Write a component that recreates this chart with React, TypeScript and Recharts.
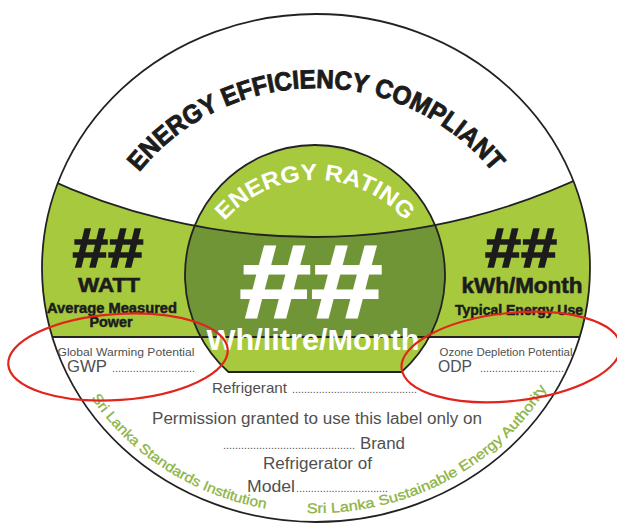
import { ComposedChart, XAxis, YAxis, ReferenceDot } from "recharts"

const WIDTH = 617
const HEIGHT = 527

// label content
const TITLE = "ENERGY EFFICIENCY COMPLIANT"
const RATING_CAPTION = "ENERGY RATING"
const RATING_VALUE = "##"
const RATING_UNIT = "Wh/litre/Month"
const SIDE_VALUES = ["##", "##"]
const SIDE_UNITS = ["WATT", "kWh/Month"]
const SIDE_NOTES = [["Average Measured", "Power"], ["Typical Energy Use"]]
const POTENTIAL_NAMES = ["Global Warming Potential", "Ozone Depletion Potential"]
const POTENTIAL_CODES = ["GWP", "ODP"]
const REFRIGERANT = "Refrigerant"
const PERMISSION_LINES = ["Permission granted to use this label only on", "Brand", "Refrigerator of", "Model"]
const AUTHORITIES = ["Sri Lanka Standards Institution", "Sri Lanka Sustainable Energy Authority"]

const LIGHT_GREEN = "#a7c93d"
const DARK_GREEN = "#6f9536"
const INK = "#1c1c1c"
const GREY = "#505050"
const AUTHORITY_GREEN = "#8db442"
const MARK_RED = "#e1251d"
const FONT = "'Liberation Sans', Arial, sans-serif"

type DotProps = { cx?: number; cy?: number }

const rad = (deg: number) => (deg * Math.PI) / 180

function arcPath(cx: number, cy: number, rx: number, ry: number, a0: number, a1: number) {
  const x0 = cx + rx * Math.cos(rad(a0))
  const y0 = cy + ry * Math.sin(rad(a0))
  const x1 = cx + rx * Math.cos(rad(a1))
  const y1 = cy + ry * Math.sin(rad(a1))
  const sweep = a1 > a0 ? 1 : 0
  const large = Math.abs(a1 - a0) > 180 ? 1 : 0
  return `M ${x0} ${y0} A ${rx} ${ry} 0 ${large} ${sweep} ${x1} ${y1}`
}

function badgeShape({ cx = 0, cy = 0 }: DotProps) {
  const rx = 274
  const ry = 254
  // boundary arc between white cap and green band
  const R = 634
  const acx = cx - 3
  const acy = cy - 665
  const arcY = (x: number) => acy + Math.sqrt(R * R - (x - acx) ** 2)
  const lineY = cy + 69
  const x0 = cx - 290
  const x1 = cx + 290
  const bandTop = `M ${x0} ${arcY(x0)} A ${R} ${R} 0 0 0 ${x1} ${arcY(x1)} L ${x1} ${lineY} L ${x0} ${lineY} Z`
  const arcLine = `M ${x0} ${arcY(x0)} A ${R} ${R} 0 0 0 ${x1} ${arcY(x1)}`
  // inner disc, flattened at the bottom
  const icx = cx - 1
  const icy = cy + 7
  const ir = 130
  const bottom = cy + 104
  const dx = Math.sqrt(ir * ir - (bottom - icy) ** 2)
  const inner = `M ${icx - dx} ${bottom} A ${ir} ${ir} 0 1 1 ${icx + dx} ${bottom} Z`
  return (
    <g>
      <defs>
        <clipPath id="outer-clip">
          <ellipse cx={cx} cy={cy} rx={rx} ry={ry} />
        </clipPath>
        <clipPath id="inner-clip">
          <path d={inner} />
        </clipPath>
      </defs>
      <ellipse cx={cx} cy={cy} rx={rx} ry={ry} fill="#fff" />
      <path d={bandTop} fill={LIGHT_GREEN} clipPath="url(#outer-clip)" />
      <path d={inner} fill={LIGHT_GREEN} />
      <path d={bandTop} fill={DARK_GREEN} clipPath="url(#inner-clip)" />
      <g clipPath="url(#outer-clip)" stroke="#222" strokeWidth={1.8} fill="none">
        <path d={arcLine} />
        <line x1={cx - rx} y1={lineY} x2={cx + rx} y2={lineY} />
      </g>
      <path d={inner} fill="none" stroke="#222" strokeWidth={1.8} />
      <ellipse cx={cx} cy={cy} rx={rx} ry={ry} fill="none" stroke="#222" strokeWidth={1.8} />
    </g>
  )
}

type TextStyle = {
  size: number
  fill: string
  weight?: number
  anchor?: "start" | "middle" | "end"
  length?: number
  stroke?: number
}

function textShape(text: string, s: TextStyle) {
  return ({ cx = 0, cy = 0 }: DotProps) => (
    <text
      x={cx}
      y={cy}
      fontFamily={FONT}
      fontSize={s.size}
      fontWeight={s.weight ?? 400}
      fill={s.fill}
      stroke={s.stroke ? s.fill : undefined}
      strokeWidth={s.stroke}
      textAnchor={s.anchor ?? "middle"}
      textLength={s.length}
      lengthAdjust={s.length ? "spacingAndGlyphs" : undefined}
    >
      {text}
    </text>
  )
}

function dotsShape(width: number) {
  return ({ cx = 0, cy = 0 }: DotProps) => (
    <text
      x={cx}
      y={cy}
      fontFamily={FONT}
      fontSize={10}
      fill={GREY}
      textLength={width}
      lengthAdjust="spacingAndGlyphs"
    >
      {".".repeat(Math.round(width / 3))}
    </text>
  )
}

function curvedShape(
  id: string,
  text: string,
  rx: number,
  ry: number,
  a0: number,
  a1: number,
  s: TextStyle & { offset?: string }
) {
  return ({ cx = 0, cy = 0 }: DotProps) => (
    <g>
      <defs>
        <path id={id} d={arcPath(cx, cy, rx, ry, a0, a1)} />
      </defs>
      <text
        fontFamily={FONT}
        fontSize={s.size}
        fontWeight={s.weight ?? 400}
        fill={s.fill}
        stroke={s.stroke ? s.fill : undefined}
        strokeWidth={s.stroke}
        textAnchor={s.anchor ?? "middle"}
      >
        <textPath
          href={`#${id}`}
          startOffset={s.offset ?? "50%"}
          textLength={s.length}
          lengthAdjust="spacingAndGlyphs"
        >
          {text}
        </textPath>
      </text>
    </g>
  )
}

function ellipseShape(rx: number, ry: number, angle: number) {
  return ({ cx = 0, cy = 0 }: DotProps) => (
    <ellipse
      cx={cx}
      cy={cy}
      rx={rx}
      ry={ry}
      transform={`rotate(${angle} ${cx} ${cy})`}
      fill="none"
      stroke={MARK_RED}
      strokeWidth={2.2}
    />
  )
}

export default function App() {
  const marks: [number, number, (p: DotProps) => React.ReactElement][] = [
    [316, 268, badgeShape],
    [316, 316, curvedShape("title-arc", TITLE, 228, 228, -155, -25, { size: 26, weight: 700, fill: INK, length: 405, stroke: 0.9 })],
    [315, 300, curvedShape("rating-arc", RATING_CAPTION, 120, 120, -145, -35, { size: 23, weight: 700, fill: "#fff", length: 205 })],
    [311, 317, textShape(RATING_VALUE, { size: 104, weight: 700, fill: "#fff", length: 143, stroke: 2 })],
    [313, 350, textShape(RATING_UNIT, { size: 30, weight: 700, fill: "#fff", length: 213 })],
    [108, 267, textShape(SIDE_VALUES[0], { size: 56, weight: 700, fill: INK, length: 71, stroke: 1.5 })],
    [521, 267, textShape(SIDE_VALUES[1], { size: 56, weight: 700, fill: INK, length: 72, stroke: 1.5 })],
    [109, 292, textShape(SIDE_UNITS[0], { size: 21, weight: 700, fill: INK, length: 62, stroke: 0.6 })],
    [522, 293, textShape(SIDE_UNITS[1], { size: 21.5, weight: 700, fill: INK, length: 121, stroke: 0.6 })],
    [112, 313, textShape(SIDE_NOTES[0][0], { size: 14, weight: 700, fill: INK, length: 130, stroke: 0.5 })],
    [111, 327, textShape(SIDE_NOTES[0][1], { size: 14, weight: 700, fill: INK, length: 43, stroke: 0.5 })],
    [519, 315, textShape(SIDE_NOTES[1][0], { size: 14, weight: 700, fill: INK, length: 128, stroke: 0.5 })],
    [126, 356, textShape(POTENTIAL_NAMES[0], { size: 11, fill: GREY, length: 137 })],
    [506, 356, textShape(POTENTIAL_NAMES[1], { size: 11, fill: GREY, length: 133 })],
    [67, 372, textShape(POTENTIAL_CODES[0], { size: 16, fill: GREY, anchor: "start", length: 40 })],
    [112, 372, dotsShape(83)],
    [438, 372, textShape(POTENTIAL_CODES[1], { size: 16, fill: GREY, anchor: "start", length: 34 })],
    [480, 372, dotsShape(87)],
    [212, 393, textShape(REFRIGERANT, { size: 15, fill: GREY, anchor: "start", length: 75 })],
    [292, 393, dotsShape(125)],
    [317, 424, textShape(PERMISSION_LINES[0], { size: 16, fill: GREY, length: 330 })],
    [223, 449, dotsShape(132)],
    [360, 449, textShape(PERMISSION_LINES[1], { size: 16, fill: GREY, anchor: "start", length: 45 })],
    [263, 469, textShape(PERMISSION_LINES[2], { size: 16, fill: GREY, anchor: "start", length: 109 })],
    [247, 492, textShape(PERMISSION_LINES[3], { size: 16, fill: GREY, anchor: "start", length: 48 })],
    [296, 492, dotsShape(92)],
    [316, 268, curvedShape("ssi-arc", AUTHORITIES[0], 265, 245, 148, 99, { size: 14, fill: AUTHORITY_GREEN, anchor: "start", offset: "0%", length: 212, stroke: 0.3 })],
    [316, 268, curvedShape("slsea-arc", AUTHORITIES[1], 265, 245, 92, 29, { size: 14, fill: AUTHORITY_GREEN, anchor: "start", offset: "0%", length: 283, stroke: 0.3 })],
    [118, 357, ellipseShape(110, 43, -4)],
    [511, 357, ellipseShape(110, 44, -6)],
  ]

  return (
    <div style={{ position: "fixed", left: 0, top: 0, width: WIDTH, height: HEIGHT, background: "#fff" }}>
      <ComposedChart width={WIDTH} height={HEIGHT} margin={{ top: 0, right: 0, bottom: 0, left: 0 }} data={[]}>
        <XAxis type="number" dataKey="x" domain={[0, WIDTH]} hide allowDataOverflow />
        <YAxis type="number" dataKey="y" domain={[0, HEIGHT]} hide reversed allowDataOverflow />
        {marks.map(([x, y, shape], i) => (
          <ReferenceDot key={i} x={x} y={y} r={1} ifOverflow="visible" shape={shape} />
        ))}
      </ComposedChart>
    </div>
  )
}
